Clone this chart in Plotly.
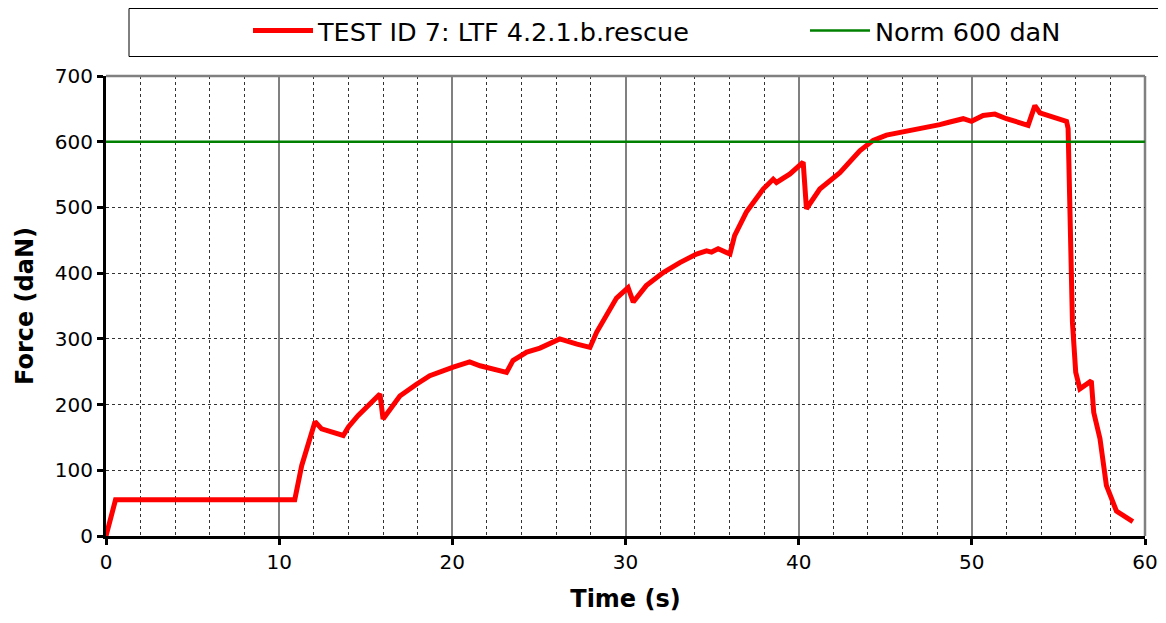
import plotly.graph_objects as go

time_s = [0, 0.55, 10.9, 11.3, 12.07, 12.45, 13.7, 14.0, 14.55, 15.82, 16.0, 16.97, 17.93,
          18.7, 20.05, 21.0, 21.6, 23.13, 23.5, 24.3, 25.06, 26.2, 27.2, 27.95, 28.33, 29.48,
          30.15, 30.45, 31.2, 32.18, 33.14, 34.1, 34.68, 34.97, 35.35, 36.03, 36.3, 36.98,
          37.95, 38.53, 38.72, 39.5, 40.26, 40.45, 41.22, 42.38, 43.53, 44.3, 45.07, 46.6,
          48.15, 48.73, 49.5, 49.98, 50.65, 51.33, 52.0, 53.25, 53.64, 53.93, 55.47, 55.56,
          55.66, 55.81, 56.0, 56.24, 56.9, 57.04, 57.4, 57.77, 58.35, 58.93, 59.3]
force_dan = [0, 55, 55, 107, 174, 163, 153, 166, 183, 216, 178, 213, 231,
             244, 257, 265, 259, 249, 267, 280, 286, 300, 292, 287, 310, 362,
             378, 356, 381, 401, 416, 429, 434, 432, 437, 429, 457, 493,
             528, 543, 538, 551, 569, 498, 528, 553, 586, 602, 610, 617,
             626, 630, 635, 631, 640, 642, 635, 625, 655, 644, 631, 620,
             503, 325, 249, 224, 236, 188, 148, 77, 38, 28, 22]

norm_time = [0, 60]
norm_force = [600, 600]

series_name = "TEST ID 7: LTF 4.2.1.b.rescue"
norm_name = "Norm 600 daN"

FONT = "DejaVu Sans"

# page offset compensation (body margin of the html page)
OX, OY = 8, 9
W, H = 1166 - 2 * OX, 623 - 2 * OY
L, T = 106 - OX, 77 - OY
PW, PH = 1039, 460
R, B = W - L - PW, H - T - PH


def px(x):
    return (x - 106) / PW


def py(y):
    return (537 - y) / PH


def cy(y):
    return 1 - (y - OY) / H


fig = go.Figure()
fig.add_trace(go.Scatter(x=time_s, y=force_dan, mode="lines", name=series_name,
                         line=dict(color="#ff0000", width=5), legend="legend"))
fig.add_trace(go.Scatter(x=norm_time, y=norm_force, mode="lines", name=norm_name,
                         line=dict(color="#008000", width=2.5), legend="legend2"))

legend_common = dict(orientation="h", xanchor="left", yref="container", y=cy(32), yanchor="middle",
                     font=dict(size=25.5, family=FONT, color="black"), itemwidth=60,
                     bgcolor="rgba(0,0,0,0)", borderwidth=0)

fig.update_layout(
    width=W, height=H,
    margin=dict(l=L, r=R, t=T, b=B),
    paper_bgcolor="white", plot_bgcolor="white",
    font=dict(family=FONT, color="black", size=20),
    showlegend=True,
    legend=dict(x=px(248), **legend_common),
    legend2=dict(x=px(805), **legend_common),
    xaxis=dict(range=[0, 60], dtick=10, tick0=0, automargin=False,
               showline=True, linecolor="black", linewidth=3,
               ticks="outside", ticklen=6, tickwidth=3, tickcolor="black",
               showgrid=True, gridcolor="#808080", gridwidth=1.5,
               minor=dict(dtick=2, showgrid=True, gridcolor="#333333", griddash="dot", gridwidth=1),
               zeroline=False,
               title=dict(text="<b>Time (s)</b>", font=dict(size=24), standoff=36),
               tickfont=dict(size=20)),
    yaxis=dict(range=[0, 700], dtick=100, tick0=0, automargin=False,
               showline=True, linecolor="black", linewidth=3,
               ticks="outside", ticklen=6, tickwidth=3, tickcolor="black",
               showgrid=True, gridcolor="#333333", griddash="dot", gridwidth=1,
               zeroline=False,
               title=dict(text="<b>Force (daN)</b>", font=dict(size=24), standoff=15),
               tickfont=dict(size=20)),
    shapes=[
        dict(type="line", xref="paper", yref="paper", x0=0, x1=1, y0=1, y1=1,
             line=dict(color="#808080", width=2.5), layer="above"),
        dict(type="line", xref="paper", yref="paper", x0=1, x1=1, y0=0, y1=1,
             line=dict(color="#808080", width=2.5), layer="below"),
        dict(type="rect", xref="paper", yref="paper", x0=px(129), x1=px(1161),
             y0=py(57.5), y1=py(9.5),
             line=dict(color="black", width=1), fillcolor="rgba(0,0,0,0)"),
    ],
)

fig.write_html("out.html")
